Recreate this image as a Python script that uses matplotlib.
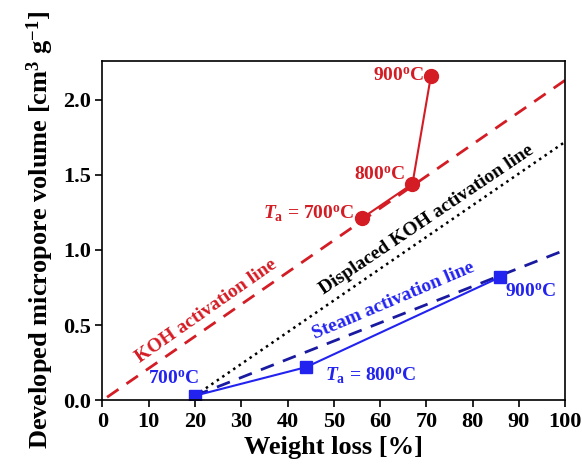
import matplotlib
matplotlib.use('Agg')
import matplotlib.pyplot as plt

plt.rcParams['font.family'] = 'Liberation Serif'
plt.rcParams['font.weight'] = 'bold'
plt.rcParams['mathtext.fontset'] = 'custom'
plt.rcParams['mathtext.rm'] = 'Liberation Serif:bold'
plt.rcParams['mathtext.it'] = 'Liberation Serif:italic:bold'
plt.rcParams['mathtext.bf'] = 'Liberation Serif:bold'

# KOH activated samples
koh_loss = [56, 67, 71]
koh_vol = [1.21, 1.44, 2.16]
# steam activated samples
steam_loss = [20, 44, 86]
steam_vol = [0.03, 0.22, 0.82]

# guide lines (end points)
koh_line_x = [1, 100]
koh_line_y = [0.02, 2.13]
disp_line_x = [20, 100]
disp_line_y = [0.03, 1.72]
steam_line_x = [20, 100]
steam_line_y = [0.03, 1.0]

red = '#d41c24'
blue = '#2323f0'
navy = '#1a1aa0'

fig = plt.figure(figsize=(5.82, 4.67), dpi=100)
ax = fig.add_axes([0.176, 0.143, 0.795, 0.727])

ax.plot(koh_line_x, koh_line_y, '--', color=red, lw=2, dashes=(5, 3.5))
ax.plot(disp_line_x, disp_line_y, ':', color='k', lw=1.8)
ax.plot(steam_line_x, steam_line_y, '--', color=navy, lw=2, dashes=(5, 3.5))
ax.plot(koh_loss, koh_vol, '-o', color=red, lw=1.5, ms=10)
ax.plot(steam_loss, steam_vol, '-s', color=blue, lw=1.5, ms=9)

ax.set_xlim(0, 100)
ax.set_ylim(0, 2.26)
ax.set_xticks(range(0, 101, 10))
ax.set_yticks([0.0, 0.5, 1.0, 1.5, 2.0])
ax.set_yticklabels(['0.0', '0.5', '1.0', '1.5', '2.0'])
ax.tick_params(direction='out', labelsize=16, width=1.2, length=5)
for s in ax.spines.values():
    s.set_linewidth(1.2)

ax.set_xlabel('Weight loss [%]', fontsize=19, fontweight='bold', labelpad=3)
ax.set_ylabel('Developed micropore volume [cm$^{3}$ g$^{-1}$]', fontsize=19,
              fontweight='bold', labelpad=5)

# annotations
fs = 14
ax.text(69.5, 2.16, '900$^{\\rm o}$C', color=red, fontsize=fs, ha='right', va='center')
ax.text(65.5, 1.50, '800$^{\\rm o}$C', color=red, fontsize=fs, ha='right', va='center')
ax.text(54.5, 1.24, '$T_{\\rm a}$ = 700$^{\\rm o}$C', color=red, fontsize=fs, ha='right', va='center')
ax.text(21, 0.14, '700$^{\\rm o}$C', color=blue, fontsize=fs, ha='right', va='center')
ax.text(48, 0.16, '$T_{\\rm a}$ = 800$^{\\rm o}$C', color=blue, fontsize=fs, ha='left', va='center')
ax.text(87, 0.72, '900$^{\\rm o}$C', color=blue, fontsize=fs, ha='left', va='center')

ax.text(22.5, 0.59, 'KOH activation line', color=red, fontsize=fs,
        rotation=35, ha='center', va='center', rotation_mode='anchor')
ax.text(70, 1.20, 'Displaced KOH activation line', color='k', fontsize=fs,
        rotation=34, ha='center', va='center', rotation_mode='anchor')
ax.text(63, 0.66, 'Steam activation line', color=blue, fontsize=fs,
        rotation=23, ha='center', va='center', rotation_mode='anchor')

fig.savefig('out.png', dpi=100)
